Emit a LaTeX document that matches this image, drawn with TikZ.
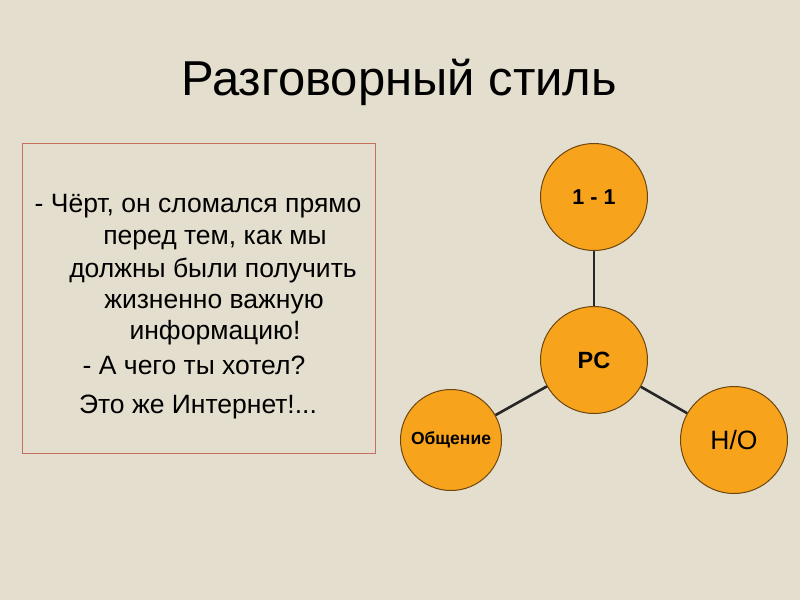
\documentclass[tikz,border=0pt]{standalone}
\usepackage{fontspec}
\setmainfont{Liberation Sans}
\definecolor{bg}{RGB}{228,222,206}
\definecolor{orng}{RGB}{247,163,28}
\definecolor{orngline}{RGB}{110,70,15}
\definecolor{boxline}{RGB}{200,110,95}
\tikzset{
  bubble/.style={circle, fill=orng, draw=orngline, line width=1pt, minimum size=107pt, inner sep=0pt, align=center},
  link/.style={draw=black!85, line width=2.6pt},
  txt/.style={font=\fontsize{26.5}{30}\selectfont, inner sep=0pt, anchor=base}
}
\begin{document}
\begin{tikzpicture}[x=1pt,y=-1pt]
\fill[bg] (0,0) rectangle (800,600);
\useasboundingbox (0,0) rectangle (800,600);
\node[font=\fontsize{49}{56}\selectfont, anchor=base, inner sep=0pt] (title) at (399,95) {Разговорный стиль};
\draw[boxline, line width=0.8pt] (22,143) rectangle (375,453);
\node[txt] (l1) at (198,212) {- Чёрт, он сломался прямо};
\node[txt] (l2) at (215,244) {перед тем, как мы};
\node[txt] (l3) at (213,277) {должны были получить};
\node[txt] (l4) at (214,308) {жизненно важную};
\node[txt] (l5) at (215,339) {информацию!};
\node[txt] (l6) at (194,374) {- А чего ты хотел?};
\node[txt] (l7) at (198,413) {Это же Интернет!...};
\node[bubble, font=\bfseries\fontsize{21.5}{24}\selectfont] (one) at (594,197) {1 - 1};
\node[bubble, font=\bfseries\fontsize{23.5}{26}\selectfont] (pc) at (594,360) {PC};
\node[bubble, minimum size=101pt, font=\bfseries\fontsize{17.5}{20}\selectfont] (comm) at (451,440) {Общение};
\node[bubble, font=\fontsize{26.5}{30}\selectfont] (ho) at (734,440) {H/O};
\path[link] (one) -- (pc);
\path[link] (pc) -- (comm);
\path[link] (pc) -- (ho);
\end{tikzpicture}
\end{document}
